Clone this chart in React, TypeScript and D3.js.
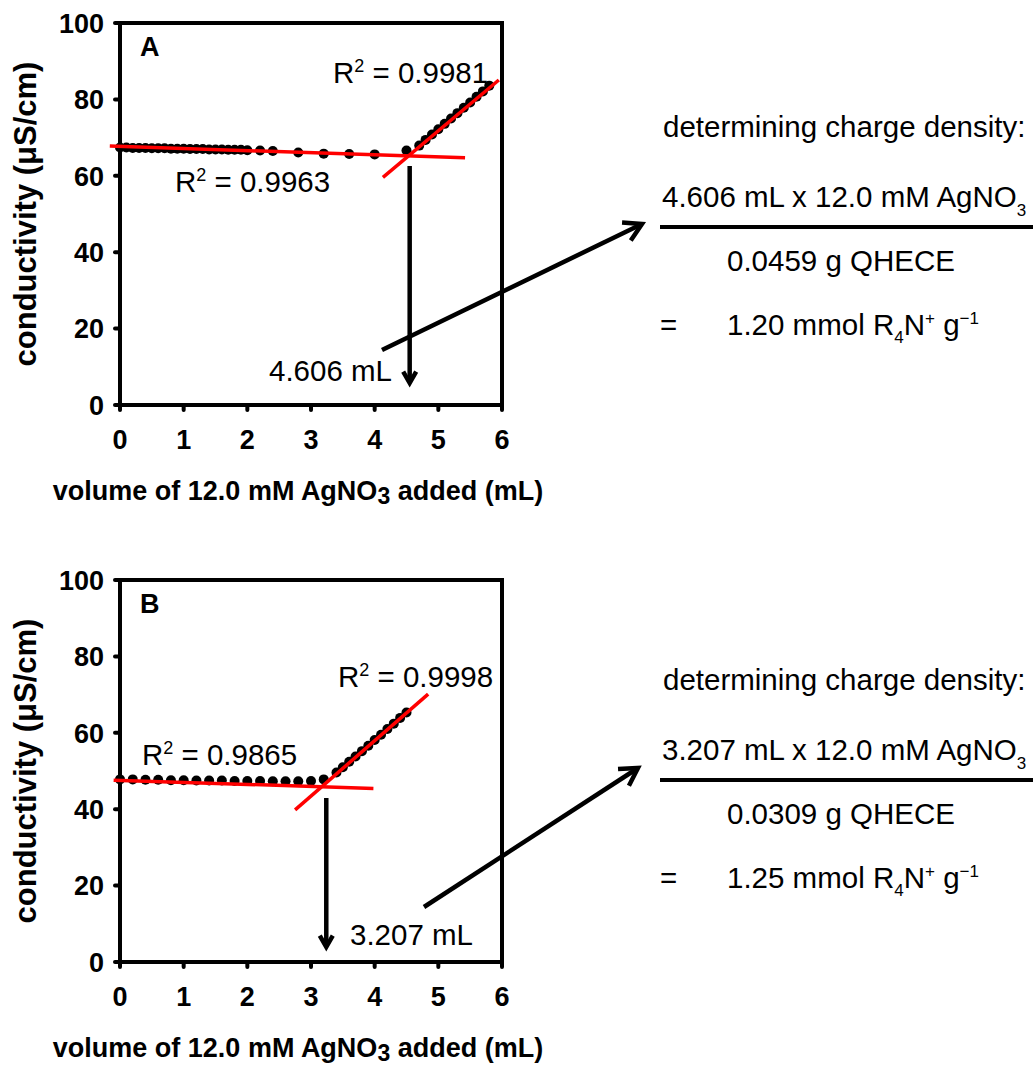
import React from 'react';
import * as d3 from 'd3';

// axis ticks
const xTicks = [0, 1, 2, 3, 4, 5, 6];
const yTicks = [0, 20, 40, 60, 80, 100];

// panel A: volume (mL) vs conductivity (uS/cm)
const volumeA = [0, 0.1, 0.2, 0.3, 0.4, 0.5, 0.6, 0.7, 0.8, 0.9, 1.0, 1.1, 1.2, 1.3, 1.4, 1.5, 1.6, 1.7, 1.8, 1.9, 2.0,
  2.2, 2.4, 2.8, 3.2, 3.6, 4.0, 4.5,
  4.7, 4.8, 4.9, 5.0, 5.1, 5.2, 5.3, 5.4, 5.5, 5.6, 5.7, 5.8];
const conductA = [67.4, 67.4, 67.3, 67.3, 67.3, 67.2, 67.2, 67.2, 67.1, 67.1, 67.1, 67.0, 67.0, 67.0, 66.9, 66.9, 66.9, 66.8, 66.8, 66.8, 66.7,
  66.6, 66.5, 66.1, 65.8, 65.7, 65.6, 66.6,
  67.9, 69.4, 70.8, 72.2, 73.6, 75.0, 76.4, 77.8, 79.2, 80.7, 82.1, 83.6];
// linear fits: [slope, intercept, from, to]
const fitsA = [[-0.55, 67.69, -0.16, 5.42], [14.0, 1.78, 4.13, 5.95]];
const r2A = ['0.9963', '0.9981'];

// panel B
const volumeB = [0, 0.2, 0.4, 0.6, 0.8, 1.0, 1.2, 1.4, 1.6, 1.8, 2.0, 2.2, 2.4, 2.6, 2.8, 3.0, 3.2,
  3.4, 3.5, 3.6, 3.7, 3.8, 3.9, 4.0, 4.1, 4.2, 4.3, 4.4, 4.5];
const conductB = [47.8, 47.8, 47.7, 47.7, 47.6, 47.6, 47.5, 47.5, 47.5, 47.4, 47.4, 47.4, 47.3, 47.3, 47.3, 47.4, 47.8,
  49.6, 51.0, 52.4, 53.8, 55.2, 56.6, 58.1, 59.5, 61.0, 62.4, 63.9, 65.3];
const fitsB = [[-0.53, 47.55, -0.1, 3.98], [14.5, -0.07, 2.75, 4.84]];
const r2B = ['0.9865', '0.9998'];

const FONT = '"Liberation Sans", Arial, sans-serif';
const TXT = 29.5;

function Arrow({ x1, y1, x2, y2, head = 20, w = 4.5 }) {
  const a = Math.atan2(y2 - y1, x2 - x1);
  const s = Math.PI / 6;
  const p1 = [x2 - head * Math.cos(a - s), y2 - head * Math.sin(a - s)];
  const p2 = [x2 - head * Math.cos(a + s), y2 - head * Math.sin(a + s)];
  return (
    <g stroke="#000" strokeWidth={w} fill="none">
      <line x1={x1} y1={y1} x2={x2} y2={y2} />
      <polyline points={`${p1[0]},${p1[1]} ${x2},${y2} ${p2[0]},${p2[1]}`} strokeLinejoin="miter" />
    </g>
  );
}

function Panel({ top, letter, volume, conduct, fits, r2, r2Pos, endpoint, arrowX, arrowY, endLabel, longArrow }) {
  const x = d3.scaleLinear().domain([0, 6]).range([120, 502]);
  const y = d3.scaleLinear().domain([0, 100]).range([top + 382, top]);
  const fitLine = d3.line<[number, number]>().x(d => x(d[0])).y(d => y(d[1]));
  return (
    <g fontFamily={FONT}>
      {/* frame */}
      <rect x={x(0)} y={y(100)} width={x(6) - x(0)} height={y(0) - y(100)} fill="none" stroke="#000" strokeWidth={4} />
      {yTicks.map(t => (
        <g key={'y' + t}>
          <line x1={x(0) - 5} x2={x(0)} y1={y(t)} y2={y(t)} stroke="#000" strokeWidth={4} strokeLinecap="round" />
          <text x={104} y={y(t)} dy="0.36em" textAnchor="end" fontWeight="bold" fontSize={27}>{t}</text>
        </g>
      ))}
      {xTicks.map(t => (
        <g key={'x' + t}>
          <line x1={x(t)} x2={x(t)} y1={y(0)} y2={y(0) + 5} stroke="#000" strokeWidth={4} strokeLinecap="round" />
          <text x={x(t)} y={y(0) + 44} textAnchor="middle" fontWeight="bold" fontSize={27}>{t}</text>
        </g>
      ))}
      <text x={298} y={y(0) + 95} textAnchor="middle" fontWeight="bold" fontSize={27}>
        volume of 12.0 mM AgNO<tspan dy={4} fontSize={23}>3</tspan><tspan dy={-4}> added (mL)</tspan>
      </text>
      <text transform={`translate(36,${(y(0) + y(100)) / 2}) rotate(-90)`} textAnchor="middle" fontWeight="bold" fontSize={31}>
        conductivity (μS/cm)
      </text>
      {/* data points */}
      {volume.map((v, i) => (
        <circle key={i} cx={x(v)} cy={y(conduct[i])} r={5} fill="#000" />
      ))}
      {/* fits */}
      {fits.map(([m, b, from, to], i) => (
        <path key={'f' + i} d={fitLine([[from, m * from + b], [to, m * to + b]]) || ''}
          stroke="#ff0000" strokeWidth={3.5} fill="none" />
      ))}
      <text x={140} y={top + 33} fontWeight="bold" fontSize={27}>{letter}</text>
      {r2.map((r, i) => (
        <text key={'r' + i} x={r2Pos[i][0]} y={top + r2Pos[i][1]} fontSize={TXT}>
          R<tspan dy={-11} fontSize={18}>2</tspan><tspan dy={11}> = {r}</tspan>
        </text>
      ))}
      <Arrow x1={x(arrowX)} y1={top + arrowY[0]} x2={x(arrowX)} y2={top + arrowY[1]} head={13} />
      <text x={endLabel[0]} y={top + endLabel[1]} fontSize={TXT}>{endpoint} mL</text>
      <Arrow x1={longArrow[0]} y1={top + longArrow[1]} x2={longArrow[2]} y2={top + longArrow[3]} head={20} />
    </g>
  );
}

function Calc({ top, endpoint, mass, density }) {
  return (
    <g fontFamily={FONT} fontSize={TXT}>
      <text x={663} y={top + 114}>determining charge density:</text>
      <text x={662} y={top + 184}>
        {endpoint} mL x 12.0 mM AgNO<tspan dy={9} fontSize={17}>3</tspan>
      </text>
      <line x1={660} x2={1033} y1={top + 204} y2={top + 204} stroke="#000" strokeWidth={4} />
      <text x={727} y={top + 248}>{mass} g QHECE</text>
      <text x={660} y={top + 312}>=</text>
      <text x={727} y={top + 312}>
        {density} mmol R<tspan dy={8} fontSize={17}>4</tspan><tspan dy={-8}>N</tspan>
        <tspan dy={-11} fontSize={17}>+</tspan><tspan dy={11}> g</tspan>
        <tspan dy={-11} fontSize={17}>−1</tspan>
      </text>
    </g>
  );
}

export default function App() {
  return (
    <div style={{ position: 'absolute', left: 0, top: 0 }}>
      <svg width={1036} height={1065} style={{ display: 'block', background: '#fff' }}>
        <Panel top={23} letter="A" volume={volumeA} conduct={conductA} fits={fitsA} r2={r2A}
          r2Pos={[[175, 169], [333, 60]]} endpoint="4.606" arrowX={4.55} arrowY={[143, 360]}
          endLabel={[269, 358]} longArrow={[382, 327, 642, 201]} />
        <Calc top={23} endpoint="4.606" mass="0.0459" density="1.20" />
        <Panel top={580} letter="B" volume={volumeB} conduct={conductB} fits={fitsB} r2={r2B}
          r2Pos={[[142, 185], [338, 107]]} endpoint="3.207" arrowX={3.24} arrowY={[218, 367]}
          endLabel={[350, 365]} longArrow={[424, 327, 638, 188]} />
        <Calc top={576} endpoint="3.207" mass="0.0309" density="1.25" />
      </svg>
    </div>
  );
}
